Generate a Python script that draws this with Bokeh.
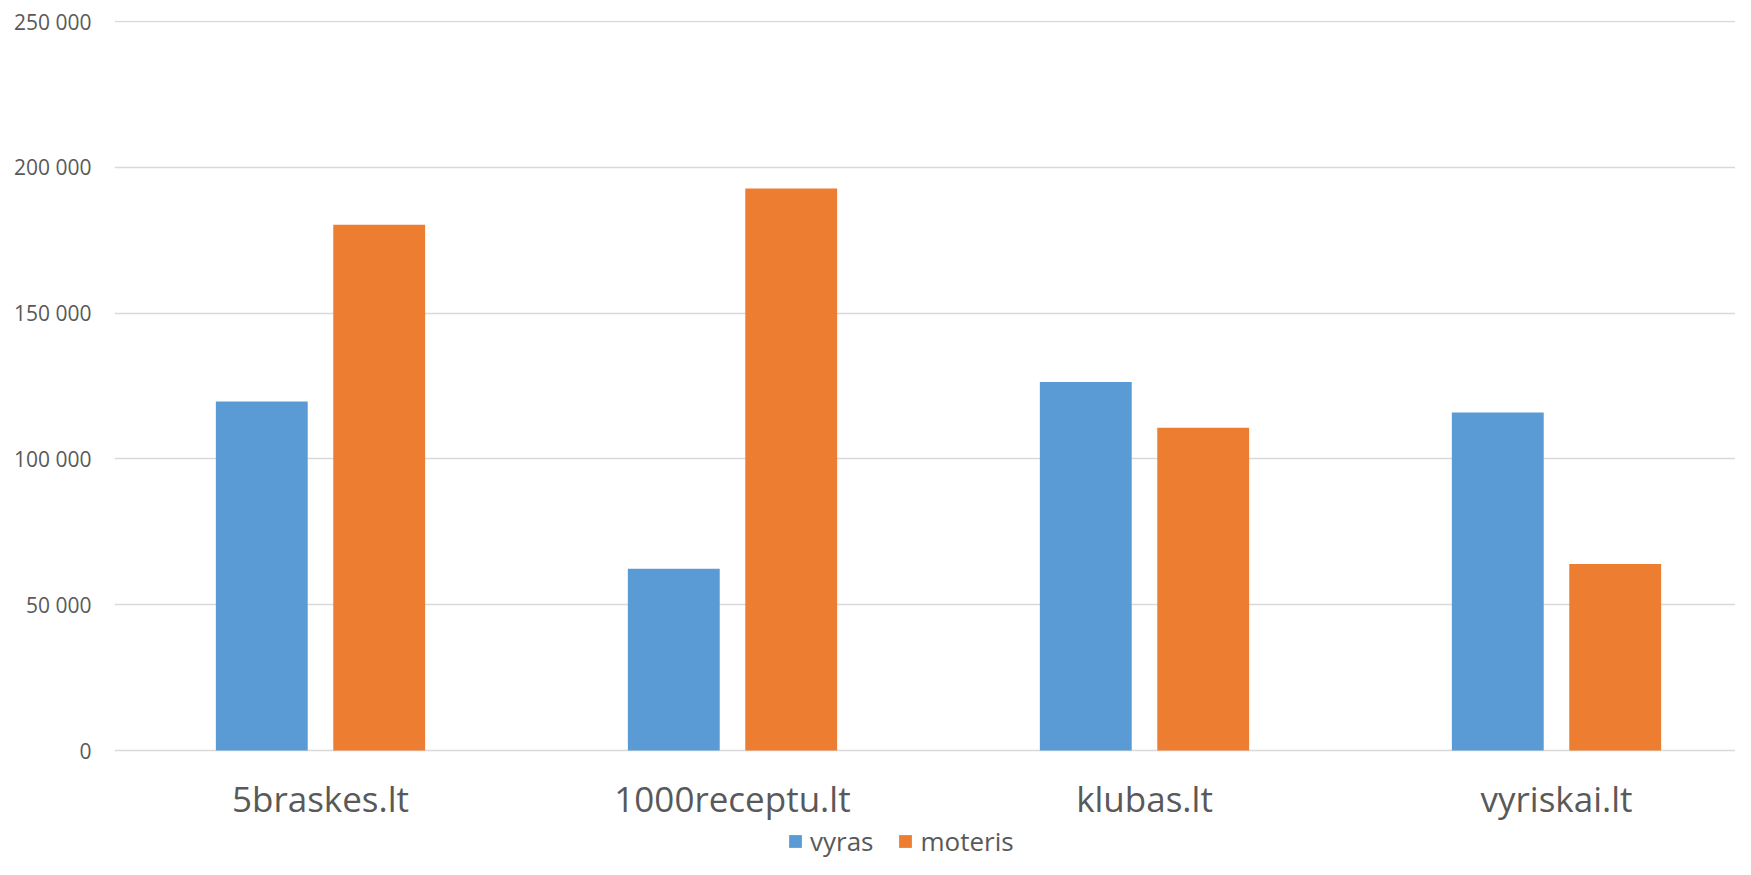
from bokeh.plotting import figure
from bokeh.models import (ColumnDataSource, Range1d, FixedTicker, Legend, LegendItem)
from bokeh.transform import dodge
from bokeh.embed import file_html
from bokeh.resources import INLINE

# ---- data ----
sites = ["5braskes.lt", "1000receptu.lt", "klubas.lt", "vyriskai.lt"]
vyras = [119700, 62300, 126400, 115900]
moteris = [180300, 192700, 110700, 64000]
y_ticks = [0, 50000, 100000, 150000, 200000, 250000]
y_tick_labels = ["0", "50 000", "100 000", "150 000", "200 000", "250 000"]
series_names = ["vyras", "moteris"]
colors = ["#5B9BD5", "#ED7D31"]

TEXT = "#595959"
FONT = "Open Sans"

# ---- layout (pixels) ----
W, H = 1735, 859
LEFT = 114            # frame left
TOP = 20              # frame top
ZERO_PX = 750         # y pixel of value 0
PX_PER_UNIT = 729 / 250000
CAT_PX = 412
frame_w = W - LEFT

y_end = (ZERO_PX - TOP) / PX_PER_UNIT
y_start = -(H - ZERO_PX) / PX_PER_UNIT

src = ColumnDataSource(dict(x=list(range(len(sites))), vyras=vyras, moteris=moteris))

p = figure(width=W, height=H, output_backend="svg", toolbar_location=None,
           x_range=Range1d(-0.5, -0.5 + frame_w / CAT_PX),
           y_range=Range1d(y_start, y_end),
           min_border_left=LEFT, min_border_top=TOP, min_border_bottom=0,
           min_border_right=0)
p.outline_line_color = None
p.background_fill_color = "white"
p.border_fill_color = "white"

r1 = p.vbar(x=dodge("x", -0.1425, range=p.x_range), top="vyras", bottom=0, width=0.223,
            source=src, color=colors[0], line_color=None)
r2 = p.vbar(x=dodge("x", 0.1425, range=p.x_range), top="moteris", bottom=0, width=0.223,
            source=src, color=colors[1], line_color=None)

# x axis (drawn at value 0)
xa = p.xaxis[0]
xa.fixed_location = 0
xa.ticker = FixedTicker(ticks=list(range(len(sites))))
xa.major_label_overrides = {i: s for i, s in enumerate(sites)}
xa.axis_line_color = None
xa.major_tick_line_color = None
xa.minor_tick_line_color = None
xa.major_tick_out = 0
xa.major_label_standoff = 24
xa.major_label_text_font = FONT
xa.major_label_text_font_size = "35px"
xa.major_label_text_color = TEXT
p.xgrid.grid_line_color = None

# y axis
ya = p.yaxis[0]
ya.ticker = FixedTicker(ticks=y_ticks)
ya.major_label_overrides = {t: l for t, l in zip(y_ticks, y_tick_labels)}
ya.axis_line_color = None
ya.major_tick_line_color = None
ya.minor_tick_line_color = None
ya.major_tick_out = 0
ya.major_label_standoff = 23
ya.major_label_text_font = FONT
ya.major_label_text_font_size = "21px"
ya.major_label_text_color = TEXT
p.ygrid.ticker = FixedTicker(ticks=y_ticks)
p.ygrid.grid_line_color = "#d9d9d9"
p.ygrid.grid_line_width = 1.4

legend = Legend(items=[LegendItem(label=series_names[0], renderers=[r1]),
                       LegendItem(label=series_names[1], renderers=[r2])],
                orientation="horizontal", location=(673, 0),
                glyph_width=16, glyph_height=16, label_standoff=7, spacing=24,
                padding=0, margin=0, border_line_color=None,
                background_fill_alpha=0,
                label_text_font=FONT, label_text_font_size="26px",
                label_text_color=TEXT)
p.add_layout(legend, "center")

open("out.html", "w").write(file_html(p, INLINE))
